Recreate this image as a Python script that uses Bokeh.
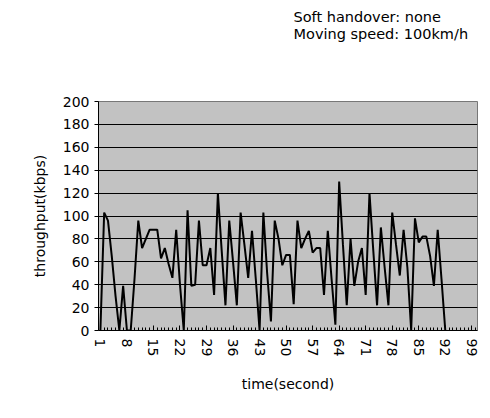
from bokeh.plotting import figure
from bokeh.models import FixedTicker, Range1d
from bokeh.layouts import column
from bokeh.core.properties import value
from bokeh.embed import file_html
from bokeh.resources import INLINE

# time (second) and throughput (kbps)
throughput = [0, 103, 96, 65, 30, 0, 39, 0, 0, 45,
              96, 72, 80, 88, 88, 88, 63, 72, 58, 46,
              88, 40, 0, 105, 39, 40, 96, 57, 57, 72,
              31, 120, 70, 22, 96, 60, 22, 103, 75, 46,
              87, 45, 0, 103, 50, 8, 96, 80, 57, 66,
              66, 23, 96, 72, 80, 87, 68, 72, 72, 31,
              87, 45, 5, 130, 75, 22, 80, 39, 60, 72,
              31, 120, 70, 22, 90, 55, 22, 103, 75, 48,
              88, 55, 0, 98, 77, 82, 82, 65, 39, 88,
              45, 0]
time = list(range(1, len(throughput) + 1))
n_categories = 100
x_tick_labels = list(range(1, n_categories + 1, 7))
y_ticks = list(range(0, 201, 20))
notes = ["Soft handover: none", "Moving speed: 100km/h"]

FONT = "DejaVu Sans"
W, H = 482, 410
HEAD = 46
RIGHT = 5
LEFT, TOP, BOTTOM = 98, 101 - HEAD, 80

# header strip holding the two notes; its frame is aligned with the main
# frame, so the x range is expressed in page pixels (y runs downwards)
head = figure(width=W, height=HEAD, output_backend="svg", toolbar_location=None,
              x_range=Range1d(LEFT, W - RIGHT), y_range=Range1d(HEAD, 0),
              min_border=0, outline_line_color=None)
head.axis.visible = False
head.grid.visible = False
head.background_fill_color = "white"
head.border_fill_color = "white"
head.text(x=[293, 293], y=[16, 33], text=notes, text_font=value(FONT),
          text_font_size="14.5px", text_color="black", text_baseline="alphabetic")

p = figure(width=W, height=H - HEAD, output_backend="svg", toolbar_location=None,
           x_range=Range1d(0.5, n_categories + 0.5), y_range=Range1d(0, 200),
           min_border_left=LEFT, min_border_right=RIGHT, min_border_top=TOP,
           min_border_bottom=BOTTOM)

p.background_fill_color = "#c2c2c2"
p.border_fill_color = "white"
p.outline_line_color = "#777777"

p.line(time, throughput, line_color="black", line_width=2)

p.xgrid.visible = False
p.ygrid.grid_line_color = "black"
p.ygrid.grid_line_width = 1

p.yaxis.ticker = FixedTicker(ticks=y_ticks)
p.yaxis.major_label_text_font = FONT
p.yaxis.major_label_text_font_size = "14px"
p.yaxis.major_label_text_color = "black"
p.yaxis.minor_tick_line_color = None
p.yaxis.major_tick_in = 0
p.yaxis.major_tick_out = 4
p.yaxis.axis_line_color = "black"
p.yaxis.axis_label = "throughput(kbps)"
p.yaxis.axis_label_text_font = FONT
p.yaxis.axis_label_text_font_style = "normal"
p.yaxis.axis_label_text_font_size = "14px"
p.yaxis.axis_label_text_color = "black"
p.yaxis.axis_label_standoff = 12

p.xaxis.ticker = FixedTicker(ticks=x_tick_labels,
                             minor_ticks=list(range(1, n_categories + 1)))
p.xaxis.major_label_orientation = "vertical"
p.xaxis.major_label_text_font = FONT
p.xaxis.major_label_text_font_size = "14px"
p.xaxis.major_label_text_color = "black"
p.xaxis.major_tick_in = 5
p.xaxis.major_tick_out = 0
p.xaxis.minor_tick_in = 3
p.xaxis.minor_tick_out = 0
p.xaxis.axis_line_color = "black"
p.xaxis.major_label_standoff = 8
p.xaxis.axis_label = "time(second)"
p.xaxis.axis_label_text_font = FONT
p.xaxis.axis_label_text_font_style = "normal"
p.xaxis.axis_label_text_font_size = "14px"
p.xaxis.axis_label_text_color = "black"
p.xaxis.axis_label_standoff = 17

layout = column(head, p, spacing=0)
open("out.html", "w").write(file_html(layout, INLINE))
